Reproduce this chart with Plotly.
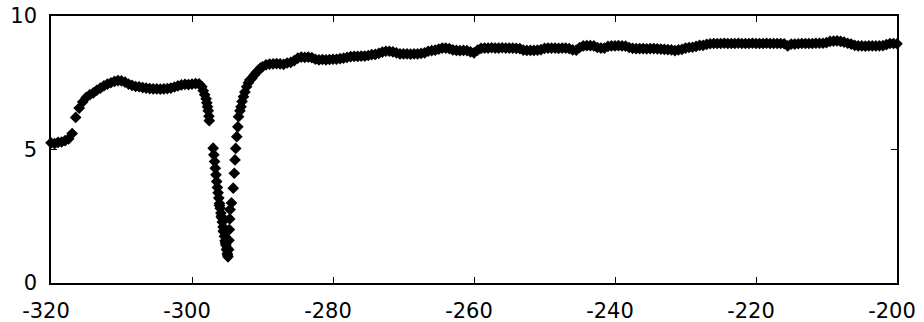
import plotly.graph_objects as go

# ---- data ----
x_left = [-320, -319.5, -319, -318.5, -318, -317.5, -317, -316.5, -316, -315.5, -315, -314.5,
          -314, -313.5, -313, -312.5, -312, -311.5, -311, -310.5, -310, -309.5, -309, -308.5,
          -308, -307.5, -307, -306.5, -306, -305.5, -305, -304.5, -304, -303.5, -303, -302.5,
          -302, -301.5, -301, -300.5, -300, -299.5, -299, -298.6, -298.4, -298.2, -298.0,
          -297.9, -297.8, -297.7, -297.6, -297.55]
y_left = [5.25, 5.22, 5.27, 5.28, 5.33, 5.40, 5.60, 6.20, 6.55, 6.78, 6.95, 7.05,
          7.12, 7.22, 7.30, 7.38, 7.45, 7.50, 7.55, 7.58, 7.57, 7.52, 7.45, 7.40,
          7.36, 7.35, 7.32, 7.30, 7.28, 7.27, 7.27, 7.26, 7.27, 7.28, 7.30, 7.34,
          7.38, 7.42, 7.44, 7.43, 7.45, 7.47, 7.46, 7.35, 7.20, 7.05, 6.90,
          6.75, 6.60, 6.45, 6.25, 6.08]

x_dip = [-297.0, -296.9, -296.8, -296.7, -296.6, -296.5, -296.4, -296.3, -296.2, -296.1,
         -296.0, -295.9, -295.8, -295.7, -295.6, -295.5, -295.4, -295.3, -295.2, -295.1,
         -295.0, -294.9, -296.1, -295.85, -295.55, -295.25, -295.0, -294.95,
         -294.8, -294.75, -294.7, -294.65, -294.6, -294.4, -294.15, -294.0, -293.9, -293.8,
         -293.65, -293.5, -293.4, -293.2, -293.05, -292.9, -292.7, -292.5, -292.25, -292.0,
         -291.8, -291.5, -291.2, -290.9, -290.6, -290.3, -290.0]
y_dip = [5.05, 4.80, 4.55, 4.30, 4.05, 3.80, 3.58, 3.38, 3.18, 2.98,
         2.80, 2.62, 2.45, 2.28, 2.10, 1.92, 1.75, 1.58, 1.42, 1.25,
         1.10, 0.98, 2.90, 2.50, 1.95, 1.50, 1.30, 1.05,
         1.25, 1.60, 2.00, 2.40, 2.75, 3.00, 3.55, 4.11, 4.61, 5.04,
         5.48, 5.85, 6.23, 6.45, 6.60, 6.80, 6.98, 7.15, 7.35, 7.50,
         7.60, 7.67, 7.78, 7.88, 7.95, 8.05, 8.10]

x_right = [-289.5, -289, -288.5, -288, -287.5, -287, -286.5, -286, -285.5, -285,
           -284.5, -284, -283.5, -283, -282.5, -282, -281.5, -281, -280.5, -280,
           -279.5, -279, -278.5, -278, -277.5, -277, -276.5, -276, -275.5, -275,
           -274.5, -274, -273.5, -273, -272.5, -272, -271.5, -271, -270.5, -270,
           -269.5, -269, -268.5, -268, -267.5, -267, -266.5, -266, -265.5, -265,
           -264.5, -264, -263.5, -263, -262.5, -262, -261.5, -261, -260.5, -260,
           -259.5, -259, -258.5, -258, -257.5, -257, -256.5, -256, -255.5, -255,
           -254.5, -254, -253.5, -253, -252.5, -252, -251.5, -251, -250.5, -250,
           -249.5, -249, -248.5, -248, -247.5, -247, -246.5, -246, -245.5, -245,
           -244.5, -244, -243.5, -243, -242.5, -242, -241.5, -241, -240.5, -240,
           -239.5, -239, -238.5, -238, -237.5, -237, -236.5, -236, -235.5, -235,
           -234.5, -234, -233.5, -233, -232.5, -232, -231.5, -231, -230.5, -230,
           -229.5, -229, -228.5, -228, -227.5, -227, -226.5, -226, -225.5, -225,
           -224.5, -224, -223.5, -223, -222.5, -222, -221.5, -221, -220.5, -220,
           -219.5, -219, -218.5, -218, -217.5, -217, -216.5, -216, -215.5, -215,
           -214.5, -214, -213.5, -213, -212.5, -212, -211.5, -211, -210.5, -210,
           -209.5, -209, -208.5, -208, -207.5, -207, -206.5, -206, -205.5, -205,
           -204.5, -204, -203.5, -203, -202.5, -202, -201.5, -201, -200.5, -200]
y_right = [8.17, 8.20, 8.21, 8.22, 8.21, 8.19, 8.24, 8.26, 8.33, 8.42,
           8.46, 8.45, 8.46, 8.44, 8.38, 8.36, 8.37, 8.36, 8.37, 8.38,
           8.38, 8.40, 8.42, 8.45, 8.48, 8.49, 8.49, 8.50, 8.50, 8.52,
           8.55, 8.56, 8.60, 8.65, 8.68, 8.68, 8.66, 8.62, 8.58, 8.58,
           8.58, 8.57, 8.58, 8.58, 8.60, 8.62, 8.68, 8.70, 8.72, 8.76,
           8.80, 8.80, 8.78, 8.73, 8.71, 8.70, 8.71, 8.70, 8.66, 8.62,
           8.72, 8.79, 8.80, 8.80, 8.81, 8.80, 8.80, 8.81, 8.80, 8.80,
           8.80, 8.79, 8.78, 8.72, 8.71, 8.71, 8.71, 8.72, 8.74, 8.79,
           8.80, 8.80, 8.80, 8.79, 8.80, 8.80, 8.78, 8.73, 8.72, 8.82,
           8.88, 8.89, 8.89, 8.88, 8.82, 8.80, 8.80, 8.86, 8.88, 8.88,
           8.89, 8.88, 8.87, 8.82, 8.79, 8.78, 8.78, 8.78, 8.77, 8.78,
           8.78, 8.77, 8.76, 8.75, 8.74, 8.73, 8.70, 8.73, 8.75, 8.80,
           8.82, 8.83, 8.86, 8.90, 8.90, 8.94, 8.96, 8.97, 8.97, 8.97,
           8.98, 8.97, 8.97, 8.97, 8.98, 8.97, 8.97, 8.97, 8.98, 8.97,
           8.97, 8.97, 8.98, 8.97, 8.97, 8.97, 8.97, 8.96, 8.88, 8.95,
           8.95, 8.96, 8.97, 8.97, 8.97, 8.97, 8.98, 8.98, 8.98, 9.00,
           9.05, 9.06, 9.07, 9.05, 9.02, 8.98, 8.95, 8.90, 8.88, 8.88,
           8.87, 8.88, 8.88, 8.88, 8.88, 8.89, 8.93, 8.97, 8.97, 8.96]

x_tickvals = [-320, -300, -280, -260, -240, -220, -200]
x_ticktext = ["-320", "-300", "-280", "-260", "-240", "-220", "-200"]
y_tickvals = [0, 5, 10]
y_ticktext = ["0", "5", "10"]

xs = x_left + x_dip + x_right
ys = y_left + y_dip + y_right

fig = go.Figure()
fig.add_trace(go.Scatter(
    x=xs, y=ys, mode="markers",
    marker=dict(symbol="diamond", size=9, color="black", line=dict(width=0)),
    cliponaxis=False, showlegend=False,
))

axis_common = dict(
    showline=True, linecolor="black", linewidth=1.5, mirror="ticks",
    ticks="inside", ticklen=6, tickwidth=1.2, tickcolor="black",
    showgrid=False, zeroline=False, automargin=False,
    ticklabeloverflow="allow",
    tickfont=dict(family="DejaVu Sans", size=21, color="black"),
)

fig.update_layout(
    width=924, height=322,
    margin=dict(l=51, r=27, t=16, b=39, pad=0),
    paper_bgcolor="white", plot_bgcolor="white",
    xaxis=dict(range=[-320, -200], tickvals=x_tickvals, ticktext=x_ticktext,
               ticklabelstandoff=8, ticklabelshift=-5, **axis_common),
    yaxis=dict(range=[0, 10], tickvals=y_tickvals, ticktext=y_ticktext,
               ticklabelstandoff=8, **axis_common),
)

# remove the default page margin so the figure fills the 924x322 window exactly
fig.write_html("out.html", config={"displayModeBar": False},
               post_script="document.body.style.margin='0';")
